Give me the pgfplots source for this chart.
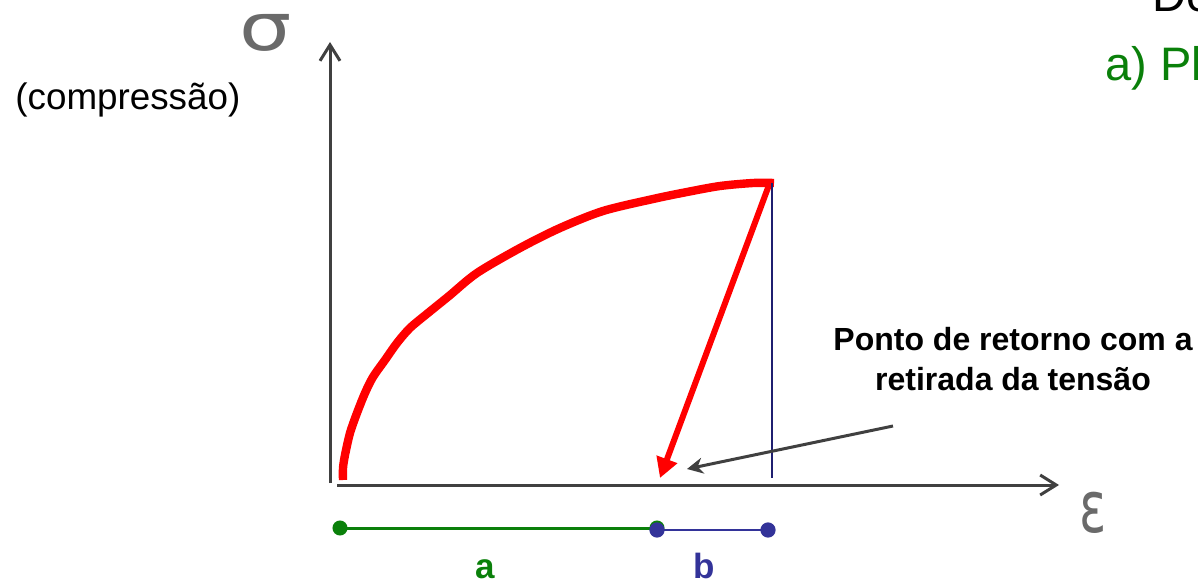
\documentclass[border=0pt]{standalone}
\usepackage{pgfplots}
\pgfplotsset{compat=1.18}
\usepackage{fontspec}
\setmainfont{Liberation Sans}
\newfontfamily\symfont{DejaVu Sans}
\usetikzlibrary{arrows.meta}
\definecolor{axgray}{HTML}{404040}
\definecolor{symgray}{HTML}{6A6A6A}
\definecolor{navy}{HTML}{1F1F70}
\definecolor{bblue}{HTML}{333399}
\definecolor{dgreen}{HTML}{0A800A}
\begin{document}
\begin{tikzpicture}
\begin{axis}[
  scale only axis, width=599pt, height=292pt,
  xmin=0, xmax=1198, ymin=0, ymax=584, y dir=reverse,
  hide axis, clip=false]
% bounding frame (invisible)
\addplot[draw=none] coordinates {(0,0) (1198,584)};
% axes
\addplot[axgray, line width=1.5pt, -{Straight Barb[length=8pt,width=10pt]}] coordinates {(330,483) (330,42)};
\addplot[axgray, line width=1.5pt, -{Straight Barb[length=8pt,width=10pt]}] coordinates {(337,485) (1059,485)};
% stress-strain curve
\addplot[red, line width=4.2pt, smooth, tension=0.5] coordinates {
(343,480) (343,468) (345,455) (350,433) (357,413) (365,393) (373,377) (385,360) (397,343) (410,328) (428,313) (449,296) (477,273) (520,248) (560,228) (603,211) (653,199) (687,192) (720,186) (753,183) (774,183)};
% unloading arrow
\addplot[red, line width=3pt, -{Triangle[length=10pt,width=10.5pt]}] coordinates {(769,185) (660,478)};
% vertical navy line
\addplot[navy, line width=1pt] coordinates {(772,183) (772,478)};
% annotation arrow
\addplot[axgray, line width=1.5pt, -{Stealth[length=8pt,width=8pt]}] coordinates {(893,426) (687,469)};
% bottom segments
\addplot[dgreen, line width=1.5pt, mark=*, mark size=3pt, mark options={fill=dgreen}] coordinates {(340,528) (657,528)};
\addplot[bblue, line width=1.2pt, mark=*, mark size=3.2pt, mark options={fill=bblue}] coordinates {(657,530) (768,530)};
% texts
\node[anchor=base, font=\fontsize{17.5pt}{20pt}\selectfont\bfseries, text=dgreen] at (axis cs:485,578) {a};
\node[anchor=base, font=\fontsize{17.5pt}{20pt}\selectfont\bfseries, text=bblue] at (axis cs:704,578) {b};
\node[anchor=base west, inner sep=0pt, font=\fontsize{18.4pt}{21pt}\selectfont] at (axis cs:15,110) {(compressão)};
\node[anchor=base, inner sep=0pt, font=\fontsize{16pt}{19pt}\selectfont\bfseries] at (axis cs:1013,350) {Ponto de retorno com a};
\node[anchor=base, inner sep=0pt, font=\fontsize{16pt}{19pt}\selectfont\bfseries] at (axis cs:1013,390) {retirada da tensão};
\node[overlay, anchor=base west, inner sep=0pt, font=\fontsize{23.5pt}{27pt}\selectfont, text=dgreen] at (axis cs:1105,81) {a) Pl};
\node[overlay, anchor=base west, inner sep=0pt, font=\fontsize{23.5pt}{27pt}\selectfont] at (axis cs:1152,12) {De};
\node[inner sep=0pt, text=symgray, font=\fontsize{33pt}{36pt}\selectfont\symfont, xscale=1.25] at (axis cs:266,33) {σ};
\node[inner sep=0pt, text=symgray, font=\fontsize{36pt}{38pt}\selectfont\symfont, xscale=0.7] at (axis cs:1093,513) {ε};
\end{axis}
\end{tikzpicture}
\end{document}
